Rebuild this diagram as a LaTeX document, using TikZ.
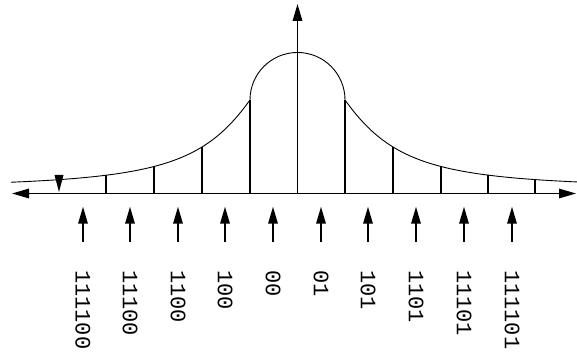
\documentclass[tikz,border=0pt]{standalone}
\usepackage{fontspec}
\newfontfamily\lblfont{Liberation Mono}
\usetikzlibrary{arrows.meta}
\begin{document}
\begin{tikzpicture}[x=1pt,y=1pt,
  axisline/.style={line width=1.6pt},
  tiptri/.style={-{Triangle[length=17pt,width=9.5pt]}},
  curveline/.style={line width=0.9pt},
  tickline/.style={line width=1.5pt},
  lbl/.style={font=\lblfont\fontsize{22}{22}\selectfont, rotate=-90, anchor=west, inner sep=0pt},
  declare function={h(\u)=164.5+5+141/(1+((\u-297.5)/61.7)^2);}
]
\useasboundingbox (0,0) rectangle (577,358);
% curve
\draw[curveline] plot[domain=11:250,samples=120,smooth] (\x,{h(\x)})
  arc[start angle=180,end angle=0,radius=47.5]
  -- plot[domain=345:577,samples=120,smooth] (\x,{h(\x)});
% ticks
\foreach \xx in {106,154,202,250,345,393,441,488,535}
  \draw[tickline] (\xx,164.5) -- (\xx,{h(\xx)});
% marker
\fill (54.5,183) -- (63.5,183) -- (59,166) -- cycle;
% axes
\coordinate (axl) at (12,164.5);
\coordinate (axr) at (576,164.5);
\coordinate (axo) at (297.5,164.5);
\coordinate (axt) at (297.5,354);
\draw[axisline,{Triangle[length=17pt,width=9.5pt]}-{Triangle[length=17pt,width=9.5pt]}] (axl) -- (axr);
\draw[axisline,tiptri] (axo) -- (axt);
% labels and arrows
\foreach \xx/\t/\n in {83/111100/a,130/11100/b,178/1100/c,225/100/d,273/00/e,321/01/f,368/101/g,416/1101/h,464/11101/i,512/111101/j}{
  \node[lbl] (l\n) at (\xx,88) {\t};
  \coordinate (s\n) at (\xx,116.3);
  \coordinate (e\n) at (\xx,151.3);
  \draw[axisline,tiptri] (s\n) -- (e\n);
}
\end{tikzpicture}
\end{document}
